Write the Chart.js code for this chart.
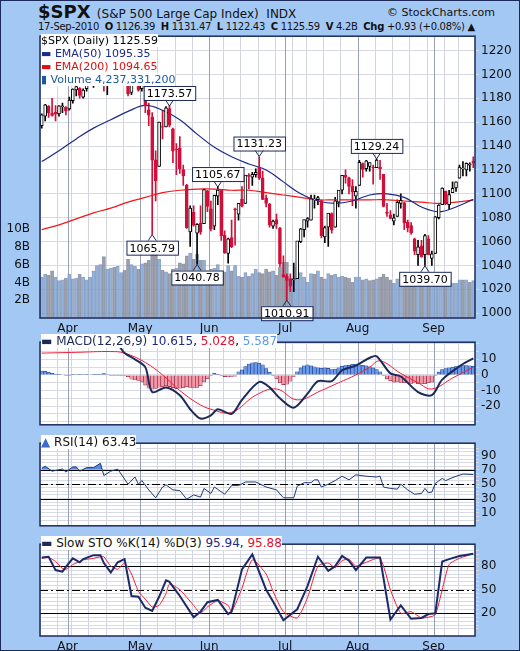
<!DOCTYPE html>
<html>
<head>
<meta charset="utf-8">
<script src="https://cdn.jsdelivr.net/npm/chart.js@4"></script>
<style>
  body { margin: 0; background: #a4c8f4; font-family: "DejaVu Sans", Verdana, sans-serif; }
  #wrap { position: relative; width: 518px; height: 649px; border: 1px solid #1c2a5a; overflow: hidden; }
  canvas { position: absolute; left: 0; }
  .hdr { position: absolute; white-space: nowrap; color: #111; }
  .leg { position: absolute; left: 40px; font-size: 11px; line-height: 13px; white-space: nowrap; }
  .leg span { background: #fff; }
</style>
</head>
<body>
<div id="wrap">
  <div class="hdr" style="left:37px;top:0px;font-size:18px;font-weight:bold;">$SPX <span style="font-size:12px;font-weight:normal;">(S&amp;P 500 Large Cap Index)&nbsp; INDX</span></div>
  <div class="hdr" style="left:386px;top:5px;font-size:11px;">© StockCharts.com</div>
  <div class="hdr" style="left:37px;top:20px;font-size:10px;letter-spacing:-0.3px;">17-Sep-2010&nbsp; <b>O</b> 1126.39 &nbsp;<b>H</b> 1131.47 &nbsp;<b>L</b> 1122.43 &nbsp;<b>C</b> 1125.59 &nbsp;<b>V</b> 4.2B &nbsp;<b>Chg</b> +0.93 (+0.08%) ▲</div>

  <canvas id="price" width="520" height="310" style="top:26px"></canvas>
  <canvas id="macd" width="520" height="101" style="top:332px"></canvas>
  <canvas id="rsi" width="520" height="101" style="top:433px"></canvas>
  <canvas id="sto" width="520" height="119" style="top:534px"></canvas>

  <div class="leg" style="top:33px;"><span>$SPX (Daily) 1125.59</span><br>
    <span style="color:#1c2a8a">▬ EMA(50) 1095.35</span><br>
    <span style="color:#e01010">▬ EMA(200) 1094.65</span><br>
    <span style="color:#1c5aa0">▮ Volume 4,237,331,200</span></div>
  <div class="leg" style="top:334px;font-size:12px;"><span><span style="color:#1c2a5a">▬ MACD(12,26,9)</span> <span style="color:#1c2a8a">10.615</span>, <span style="color:#e01030">5.028</span>, <span style="color:#5a9ae8">5.587</span></span></div>
  <div class="leg" style="top:435px;font-size:12px;color:#111;"><span><span style="color:#3a6ad0">▲</span> RSI(14) 63.43</span></div>
  <div class="leg" style="top:536px;font-size:12px;color:#111;"><span><span style="color:#1c2a5a">▬</span> Slow STO %K(14) %D(3) <span style="color:#1c2a8a">95.94</span>, <span style="color:#e01030">95.88</span></span></div>
</div>
<script>
// trading days Mar 22 .. Sep 17 2010, index 0..125
const monthStarts = [8, 29, 49, 71, 92, 114];
const monthNames = ['Apr', 'May', 'Jun', 'Jul', 'Aug', 'Sep'];
const weekStarts = [0, 5, 9, 14, 19, 24, 29, 34, 39, 44, 49, 53, 58, 63, 68, 73, 77, 82, 87, 92, 97, 102, 107, 112, 117, 121];

const opens = [1157,1165,1173,1167,1168,1167,1173,1172,
  1171,1178,1187,1188,1181,1188,1194,1195,1198,1210,1210,1192,1199,1207,1203,1208,1217,1211,1185,1193,1207,
  1188,1197,1170,1164,1128,1123,1156,1156,1171,1154,1137,1138,1120,1107,1068,1084,1067,1075,1075,1102,
  1087,1073,1098,1103,1065,1050,1063,1087,1083,1095,1092,1115,1114,1116,1122,1113,1096,1091,1073,1078,1071,1032,
  1031,1028,1028,1029,1060,1070,1077,1078,1095,1095,1094,1064,1072,1083,1072,1093,1103,1115,1113,1106,1098,
  1107,1125,1121,1123,1122,1122,1122,1116,1084,1082,1077,1081,1092,1092,1076,1073,1062,1049,1056,1049,1062,1046,
  1050,1080,1091,1102,1091,1101,1105,1113,1121,1120,1124,1127];
const highs = [1167,1175,1174,1180,1174,1174,1176,1173,
  1181,1188,1192,1189,1188,1194,1200,1199,1211,1214,1210,1198,1208,1210,1209,1218,1220,1211,1192,1208,1208,
  1205,1197,1176,1168,1136,1160,1170,1173,1174,1155,1142,1148,1124,1108,1090,1090,1075,1090,1104,1103,
  1094,1099,1106,1103,1069,1063,1078,1088,1092,1106,1115,1117,1118,1121,1131,1119,1099,1092,1078,1083,1072,1048,
  1033,1033,1042,1060,1071,1078,1080,1099,1099,1098,1095,1073,1083,1084,1097,1103,1115,1120,1114,1112,1106,
  1128,1126,1128,1126,1124,1129,1128,1116,1092,1086,1083,1095,1100,1093,1078,1076,1063,1061,1061,1066,1065,1052,
  1081,1091,1105,1102,1103,1110,1110,1124,1127,1126,1126,1131];
const lows = [1155,1161,1164,1165,1161,1165,1168,1166,
  1170,1176,1182,1180,1180,1186,1194,1189,1198,1206,1186,1183,1197,1198,1199,1206,1212,1182,1183,1193,1186,
  1186,1168,1157,1066,1094,1123,1146,1156,1156,1126,1116,1117,1107,1071,1056,1073,1041,1066,1075,1085,
  1069,1070,1091,1061,1050,1042,1055,1057,1078,1089,1092,1104,1107,1114,1112,1095,1089,1072,1071,1071,1039,1030,
  1011,1018,1018,1029,1059,1064,1072,1078,1088,1091,1063,1059,1056,1067,1072,1089,1100,1109,1100,1090,1088,
  1107,1114,1119,1119,1108,1122,1112,1089,1081,1079,1074,1081,1088,1070,1068,1066,1049,1040,1047,1040,1049,1040,
  1050,1079,1091,1091,1087,1103,1102,1113,1115,1115,1119,1122];
const closes = [1165.8,1174.2,1167.7,1165.7,1166.6,1173.2,1173.3,1169.4,
  1178.1,1187.4,1189.4,1182.5,1186.4,1194.4,1196.5,1197.3,1210.7,1211.7,1192.1,1197.5,1207.2,1205.9,1208.7,1217.3,1212.1,1183.7,1191.4,1206.8,1186.7,
  1202.3,1173.6,1165.9,1128.2,1110.9,1159.7,1155.8,1171.7,1157.4,1135.7,1136.9,1120.8,1115.1,1071.6,1087.7,1073.7,1074.0,1067.9,1103.1,1089.4,
  1070.7,1098.4,1102.8,1064.9,1050.5,1062.0,1055.7,1086.8,1091.6,1089.6,1115.2,1114.6,1116.0,1117.5,1113.2,1095.3,1092.0,1073.7,1076.8,1074.6,1041.2,1030.7,
  1027.4,1022.6,1028.1,1060.3,1070.3,1078.0,1078.8,1095.3,1095.2,1096.5,1064.9,1071.3,1083.5,1069.6,1093.7,1102.7,1115.0,1113.8,1106.1,1101.5,1101.6,
  1125.9,1120.5,1127.2,1125.8,1121.6,1127.8,1121.1,1089.5,1083.6,1079.3,1079.4,1092.5,1094.2,1075.6,1071.7,1067.4,1051.9,1055.3,1047.2,1064.6,1048.9,1049.3,
  1080.3,1090.1,1104.5,1091.8,1098.9,1104.2,1109.6,1121.9,1121.1,1125.1,1124.7,1125.6];
// volume in billions
const volume = [4.6,4.9,4.8,5.3,4.6,4.2,4.3,4.5,
  4.9,4.4,4.5,4.9,4.6,4.3,4.6,5.3,5.9,6.0,6.9,5.5,5.6,5.7,5.8,5.1,5.4,6.6,6.0,5.8,5.5,
  6.1,6.2,6.5,8.0,8.0,6.6,5.4,5.2,5.0,5.5,5.6,6.2,6.1,7.0,7.3,6.6,7.2,6.5,6.5,5.3,
  5.5,5.6,6.0,5.3,5.2,5.9,5.3,5.9,4.7,4.6,5.1,4.7,5.0,5.5,5.1,5.0,5.5,5.2,5.3,4.8,5.7,6.3,
  6.3,4.5,4.5,5.7,5.1,4.6,4.0,5.0,4.9,5.3,4.6,4.4,5.0,4.8,4.9,4.6,4.7,4.6,4.5,4.0,4.6,
  4.6,4.3,4.4,4.2,4.3,4.4,4.6,4.9,4.6,4.3,3.9,4.4,4.0,4.5,4.3,4.5,4.0,4.8,4.4,4.7,4.7,4.9,
  4.4,4.1,4.0,3.9,4.3,3.9,3.9,4.3,4.3,4.3,4.0,4.2];

const emaIdx = [0,5,10,15,20,25,30,35,40,45,50,55,60,65,70,75,80,85,90,95,100,105,110,115,120,125];
const ema50 = [1127,1136,1146,1155,1162,1169,1174,1170,1162,1150,1139,1131,1125,1120,1110,1100,1094,1092,1094,1099,1100,1097,1089,1085,1089,1095.35];
const ema200 = [1070,1074,1079,1084,1088,1093,1097,1101,1103,1104,1104,1103,1103,1101,1099,1097,1095,1095,1095,1095,1095,1094,1093,1092,1093,1094.65];

const macdIdx = [22,24,27,30,32,36,40,43,46,49,51,55,58,63,66,69,73,77,80,84,87,91,95,97,101,104,109,113,116,122,125];
const macdLine = [20,14,10,5,-11,-8,-13,-22,-28,-26,-22,-25,-16,-4.5,-8,-15,-21,-12,-4,-4,3,6,11,12,1,-1,-11,-13,-3,7,10.6];
const sigIdx = [0,10,20,24,30,35,40,45,49,55,62,68,74,81,86,91,95,98,104,109,113,119,125];
const sigLine = [14,14.5,15,14,8,0,-10,-18,-22,-24,-13,-9,-16,-10,-5,0,5,9,1,-5,-9,-2,5.03];
const hist = [2.5,2.4,1.8,1.0,0.6,0.2,0.0,-0.4,
  -0.3,0.2,0.3,0.1,0.3,0.2,0.0,0.2,0.4,0.6,0.8,0.3,-0.3,-0.4,-0.3,-0.2,-0.4,-1.2,-2.8,-3.2,-3.5,
  -4.5,-6.5,-8.5,-9.2,-8.6,-7.9,-7.6,-7.0,-7.5,-8.1,-8.8,-8.5,-8.2,-7.6,-8.0,-8.4,-8.0,-7.0,-4.5,-2.5,
  -0.3,1.0,0.4,-0.6,-1.1,-1.3,-1.0,-0.8,2.0,3.2,5.4,7.0,7.8,8.0,7.5,6.5,4.0,1.8,-0.2,-2.5,-5.0,-6.2,
  -6.0,-4.0,-1.0,2.0,4.5,5.8,6.5,5.8,5.2,4.6,4.3,4.5,4.2,3.5,3.8,4.6,5.6,6.0,6.2,6.8,7.0,
  6.5,6.2,5.8,5.2,4.5,3.5,2.0,-0.5,-2.5,-3.8,-4.6,-4.5,-4.8,-5.0,-5.2,-5.4,-5.2,-5.6,-5.8,-5.6,-5.0,-4.6,
  -0.5,1.8,3.5,4.0,4.6,5.0,5.4,5.9,6.0,6.0,5.9,5.6];

const rsiIdx = [0,1,3,6,7,9,10,11,13,15,17,18,20,22,25,27,28,29,31,33,35,36,38,40,42,44,46,47,49,50,53,55,57,59,62,65,68,70,73,74,76,78,79,80,81,83,85,87,89,91,94,97,98,99,101,103,104,106,108,110,111,112,113,114,116,117,120,122,125];
const rsiVal = [72,75,68,71,67,74,74,68,73,73,79,62,68,71,50,60,50,55,42,31,46,49,42,41,29,35,32,44,37,46,36,48,48,53,53,46,42,31,31,47,52,52,56,56,46,50,55,61,56,63,61,60,61,46,44,43,50,42,36,37,44,38,39,51,58,55,61,64,63.43];

const stoIdx = [0,2,4,6,7,9,11,12,15,17,18,20,22,24,26,28,30,32,34,36,37,40,44,46,48,51,54,55,58,61,65,67,70,74,77,80,83,85,87,89,91,94,98,101,104,107,110,112,114,116,118,121,125];
const stoK = [91,92,75,73,79,90,85,89,94,94,84,72,85,89,42,41,27,23,41,62,60,42,15,22,34,37,19,22,76,95,50,35,11,25,55,92,74,80,93,87,75,91,91,12,30,13,14,19,20,86,89,93,95.94];
const stoD = [90,91,86,77,76,82,86,88,90,92,92,80,76,84,70,48,38,28,30,45,57,50,30,20,28,36,30,22,52,88,70,48,22,14,40,80,84,78,87,89,80,85,90,50,20,22,14,15,18,50,82,90,95.88];

const annotations = [
  { i: 37, v: 1173.57, up: true }, { i: 32, v: 1065.79, up: false },
  { i: 51, v: 1105.67, up: true }, { i: 45, v: 1040.78, up: false },
  { i: 63, v: 1131.23, up: true }, { i: 71, v: 1010.91, up: false },
  { i: 97, v: 1129.24, up: true }, { i: 111, v: 1039.70, up: false }
];

const allTicks = [...new Set(weekStarts.concat(monthStarts))].sort((a, b) => a - b);
const FONT = { size: 12, family: 'DejaVu Sans' };

function xAxis(showLabels, h) {
  return {
    type: 'linear', min: -0.5, max: 125.5, offset: false,
    afterBuildTicks: s => { s.ticks = monthStarts.map(v => ({ value: v - 0.5 })); },
    afterFit: s => { s.height = h; },
    grid: { display: true, drawTicks: false, offset: false, color: 'rgba(0,0,0,0)' },
    border: { display: false },
    ticks: {
      display: showLabels, autoSkip: false, maxRotation: 0, padding: 4,
      color: '#111', font: FONT,
      callback: v => { const k = monthStarts.indexOf(v + 0.5); return k >= 0 ? monthNames[k] : ''; }
    }
  };
}

// right axis; gridlines at every value of gridVals, labels only for labelVals
function yRight(min, max, gridVals, labelVals) {
  return {
    position: 'right', min, max,
    afterFit: s => { s.width = 46; },
    afterBuildTicks: s => { s.ticks = gridVals.map(v => ({ value: v })); },
    grid: { color: '#d8dae4', drawTicks: true, tickLength: 4 },
    border: { display: false },
    ticks: { autoSkip: false, color: '#111', font: FONT, padding: 2, callback: v => labelVals.includes(v) ? String(v) : '' }
  };
}

const range = (a, b, s) => { const r = []; for (let v = a; v <= b; v += s) r.push(v); return r; };

// white plot area, weekly/monthly vertical grid, navy frame
const frame = {
  id: 'frame',
  beforeDraw(c) {
    const a = c.chartArea, ctx = c.ctx;
    ctx.save(); ctx.fillStyle = '#fff'; ctx.fillRect(a.left, a.top, a.right - a.left, a.bottom - a.top); ctx.restore();
  },
  beforeDatasetsDraw(c) {
    const a = c.chartArea, ctx = c.ctx, x = c.scales.x;
    ctx.save(); ctx.lineWidth = 1;
    allTicks.forEach(t => {
      const p = Math.round(x.getPixelForValue(t - 0.5)) + 0.5;
      ctx.strokeStyle = monthStarts.includes(t) ? '#98a0b8' : '#d2d4e0';
      ctx.beginPath(); ctx.moveTo(p, a.top); ctx.lineTo(p, a.bottom); ctx.stroke();
    });
    ctx.restore();
  },
  afterDraw(c) {
    const a = c.chartArea, ctx = c.ctx;
    ctx.save(); ctx.strokeStyle = '#1c2a5a'; ctx.lineWidth = 1.5;
    ctx.strokeRect(a.left, a.top, a.right - a.left, a.bottom - a.top); ctx.restore();
  }
};

// horizontal reference lines for oscillators
function refLines(solid, dashed) {
  return {
    id: 'ref',
    beforeDatasetsDraw(c) {
      const a = c.chartArea, ctx = c.ctx, y = c.scales.y;
      ctx.save(); ctx.strokeStyle = '#000'; ctx.lineWidth = 1;
      solid.forEach(v => { const p = Math.round(y.getPixelForValue(v)) + 0.5; ctx.beginPath(); ctx.moveTo(a.left, p); ctx.lineTo(a.right, p); ctx.stroke(); });
      ctx.setLineDash([8, 3, 2, 3]);
      dashed.forEach(v => { const p = Math.round(y.getPixelForValue(v)) + 0.5; ctx.beginPath(); ctx.moveTo(a.left, p); ctx.lineTo(a.right, p); ctx.stroke(); });
      ctx.restore();
    }
  };
}

const labelPlugin = {
  id: 'labels',
  afterDatasetsDraw(c) {
    const ctx = c.ctx, x = c.scales.x, y = c.scales.y;
    ctx.save(); ctx.font = '11px "DejaVu Sans"'; ctx.textAlign = 'center'; ctx.textBaseline = 'middle';
    annotations.forEach(a => {
      const px = x.getPixelForValue(a.i), py = y.getPixelForValue(a.v);
      const txt = a.v.toFixed(2), w = ctx.measureText(txt).width + 6, h = 14;
      const cy = a.up ? py - 13 : py + 13;
      ctx.fillStyle = '#fff'; ctx.strokeStyle = '#1c2a5a'; ctx.lineWidth = 1;
      ctx.fillRect(px - w / 2, cy - h / 2, w, h); ctx.strokeRect(px - w / 2 + 0.5, cy - h / 2 + 0.5, w, h);
      ctx.beginPath(); ctx.moveTo(px - 4, a.up ? cy + h / 2 : cy - h / 2); ctx.lineTo(px, py); ctx.lineTo(px + 4, a.up ? cy + h / 2 : cy - h / 2); ctx.stroke();
      ctx.fillStyle = '#000'; ctx.fillText(txt, px, cy + 1);
    });
    ctx.restore();
  }
};

const pts = (idx, vals) => idx.map((i, k) => ({ x: i, y: vals[k] }));
const up = closes.map((c, i) => c >= opens[i]);
const base = { responsive: false, animation: false, plugins: { legend: { display: false }, tooltip: { enabled: false } } };

new Chart(document.getElementById('price'), {
  type: 'bar',
  data: {
    datasets: [
      { type: 'line', data: pts(emaIdx, ema50), borderColor: '#1c2a8a', borderWidth: 1.2, pointRadius: 0, tension: 0.4, order: 1 },
      { type: 'line', data: pts(emaIdx, ema200), borderColor: '#f01818', borderWidth: 1.2, pointRadius: 0, tension: 0.4, order: 1 },
      { data: closes.map((c, i) => ({ x: i, y: [lows[i], highs[i]] })), backgroundColor: closes.map((c, i) => up[i] ? '#000' : '#d0103a'),
        barThickness: 1, grouped: false, order: 2 },
      { data: closes.map((c, i) => ({ x: i, y: [Math.min(opens[i], c), Math.max(opens[i], c) + 0.4] })),
        backgroundColor: up.map(u => u ? '#fff' : '#d0103a'), borderColor: up.map(u => u ? '#000' : '#d0103a'),
        borderWidth: 1, borderSkipped: false, barThickness: 3, grouped: false, order: 0 },
      { data: volume.map((v, i) => ({ x: i, y: v })), yAxisID: 'vol',
        backgroundColor: closes.map((c, i) => i > 0 && c < closes[i - 1] ? 'rgba(140,146,160,0.85)' : 'rgba(130,166,212,0.85)'),
        borderColor: 'rgba(100,110,140,0.6)', borderWidth: 0.5, barThickness: 3.2, grouped: false, order: 5 }
    ]
  },
  options: Object.assign({}, base, {
    layout: { padding: { top: 6 } },
    scales: {
      x: xAxis(true, 19),
      y: yRight(996, 1232, range(1000, 1220, 20), range(1000, 1220, 20)),
      vol: {
        position: 'left', min: 0, max: 31.7,
        afterFit: s => { s.width = 39; },
        afterBuildTicks: s => { s.ticks = [2, 4, 6, 8, 10].map(v => ({ value: v })); },
        grid: { display: false }, border: { display: false },
        ticks: { color: '#111', font: FONT, padding: 2, callback: v => v + 'B' }
      }
    }
  }),
  plugins: [frame, labelPlugin]
});

new Chart(document.getElementById('macd'), {
  type: 'bar',
  data: {
    datasets: [
      { type: 'line', data: pts(macdIdx, macdLine), borderColor: '#1c2a5a', borderWidth: 2, pointRadius: 0, tension: 0.3, order: 0 },
      { type: 'line', data: pts(sigIdx, sigLine), borderColor: '#f0203a', borderWidth: 1, pointRadius: 0, tension: 0.4, order: 1 },
      { data: hist.map((h, i) => ({ x: i, y: h })), backgroundColor: hist.map(h => h >= 0 ? '#6a9ae8' : '#f29aa8'),
        borderColor: hist.map(h => h >= 0 ? '#1c3a8a' : '#8a1c3a'), borderWidth: 0.6, barThickness: 3.4, grouped: false, order: 2 }
    ]
  },
  options: Object.assign({}, base, {
    layout: { padding: { left: 39 } },
    scales: { x: xAxis(false, 0), y: yRight(-32, 21, range(-30, 20, 5), [-20, -10, 0, 10]) }
  }),
  plugins: [frame]
});

new Chart(document.getElementById('rsi'), {
  type: 'line',
  data: { datasets: [{ data: pts(rsiIdx, rsiVal), borderColor: '#1c3a7a', borderWidth: 1, pointRadius: 0,
    fill: { target: { value: 70 }, above: '#5a8ae0', below: 'transparent' } }] },
  options: Object.assign({}, base, {
    layout: { padding: { left: 39 } },
    scales: { x: xAxis(false, 0), y: yRight(-8, 107, range(0, 100, 5), [10, 30, 50, 70, 90]) }
  }),
  plugins: [frame, refLines([30, 70], [50])]
});

new Chart(document.getElementById('sto'), {
  type: 'line',
  data: { datasets: [
    { data: pts(stoIdx, stoK), borderColor: '#1c2a6a', borderWidth: 2, pointRadius: 0 },
    { data: pts(stoIdx, stoD), borderColor: '#f0203a', borderWidth: 1, pointRadius: 0, tension: 0.2 }
  ] },
  options: Object.assign({}, base, {
    layout: { padding: { left: 39 } },
    scales: { x: xAxis(true, 18), y: yRight(-9, 108, range(0, 100, 5), [20, 50, 80]) }
  }),
  plugins: [frame, refLines([20, 80], [50])]
});
</script>
</body>
</html>
